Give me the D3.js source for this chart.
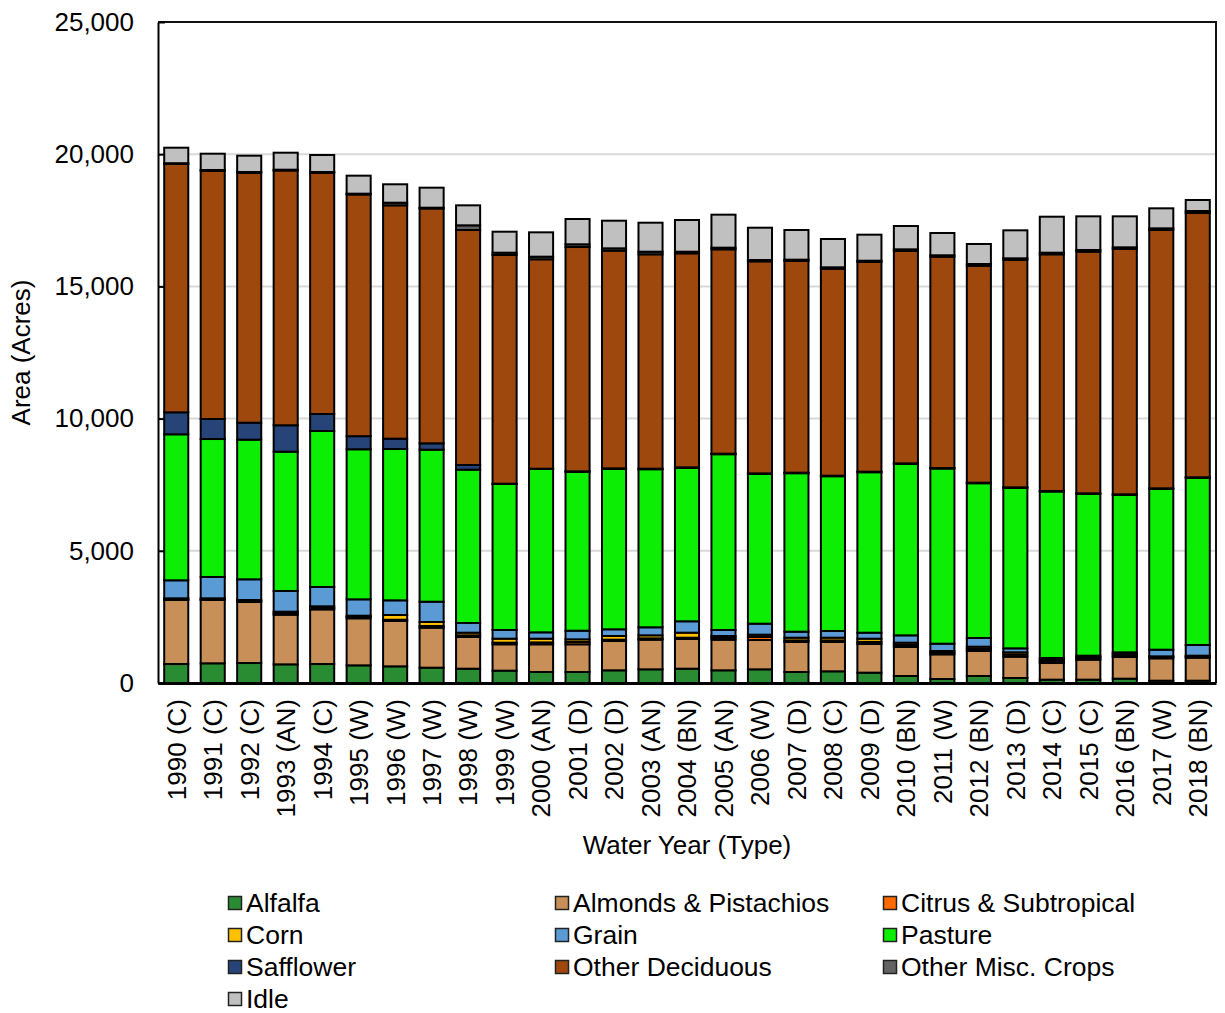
<!DOCTYPE html>
<html>
<head>
<meta charset="utf-8">
<script src="https://cdn.jsdelivr.net/npm/d3@7"></script>
<style>
  html, body { margin: 0; padding: 0; background: #fff; }
  svg { display: block; font-family: "Liberation Sans", Arial, sans-serif; }
</style>
</head>
<body>
<svg id="chart" width="1225" height="1013"></svg>
<script>
// Water years and their year-type classification
const years = [1990,1991,1992,1993,1994,1995,1996,1997,1998,1999,2000,2001,2002,2003,2004,
               2005,2006,2007,2008,2009,2010,2011,2012,2013,2014,2015,2016,2017,2018];
const yearTypes = ["C","C","C","AN","C","W","W","W","W","W","AN","D","D","AN","BN",
                   "AN","W","D","C","D","BN","W","BN","D","C","C","BN","W","BN"];

// Acreage by crop group (acres), stacked bottom to top in this order
const alfalfa   = [718,745,756,706,718,668,630,580,541,467,416,416,480,517,541,480,517,416,442,391,265,151,265,189,126,126,164,87,87];
const almonds   = [2421,2395,2307,1878,2066,1779,1715,1512,1199,997,1048,1048,1108,1121,1123,1158,1109,1135,1109,1084,1097,933,945,806,630,756,819,846,871];
const citrus    = [24,23,36,53,56,48,47,65,63,62,72,88,50,50,49,80,120,60,60,80,80,60,80,80,60,50,60,40,40];
const corn      = [40,40,40,60,60,50,180,150,100,150,140,100,140,115,190,60,82,103,103,121,83,66,83,85,60,50,60,35,35];
const grain     = [681,806,783,783,731,620,555,768,366,329,241,326,253,304,431,227,415,227,253,227,278,277,329,151,70,51,57,252,404];
const pasture   = [5522,5219,5281,5268,5900,5675,5723,5749,5799,5523,6178,6008,6068,5978,5803,6648,5666,5994,5854,6069,6485,6624,5854,6070,6296,6121,5957,6083,6323];
const safflower = [832,757,642,1000,643,495,391,241,177,10,10,20,20,20,20,20,20,20,20,20,20,20,20,20,20,20,20,20,20];
const otherDeciduous = [9392,9388,9452,9636,9123,9142,8825,8882,8888,8650,7920,8484,8232,8109,8093,7729,8019,8006,7829,7931,8031,7994,8207,8609,8952,9139,9278,9770,9996];
const otherMisc = [30,30,30,30,30,30,100,30,177,87,99,102,89,99,63,63,50,50,52,49,63,52,64,52,61,64,63,63,76];
const idle      = [586,616,617,643,643,681,696,757,756,794,921,957,1045,1096,1198,1248,1222,1122,1071,984,882,843,757,1059,1361,1273,1172,757,416];

const yTicks = [0, 5000, 10000, 15000, 20000, 25000];

const series = [
  { key: "Alfalfa",               values: alfalfa,        color: "#2a8c32" },
  { key: "Almonds & Pistachios",  values: almonds,        color: "#c98f58" },
  { key: "Citrus & Subtropical",  values: citrus,         color: "#ff6a00" },
  { key: "Corn",                  values: corn,           color: "#ffc000" },
  { key: "Grain",                 values: grain,          color: "#5b9bd5" },
  { key: "Pasture",               values: pasture,        color: "#0cee04" },
  { key: "Safflower",             values: safflower,      color: "#264478" },
  { key: "Other Deciduous",       values: otherDeciduous, color: "#9e480e" },
  { key: "Other Misc. Crops",     values: otherMisc,      color: "#636363" },
  { key: "Idle",                  values: idle,           color: "#c0c0c0" }
];

// Legend is laid out row by row, three entries per row
const legendOrder = ["Alfalfa","Almonds & Pistachios","Citrus & Subtropical",
                     "Corn","Grain","Pasture",
                     "Safflower","Other Deciduous","Other Misc. Crops",
                     "Idle"];

// Build the table d3.stack needs
const rows = years.map((yr, i) => {
  const r = { label: `${yr} (${yearTypes[i]})` };
  series.forEach(s => { r[s.key] = s.values[i]; });
  return r;
});

const svg = d3.select("#chart");
const plot = { left: 158, right: 1216, top: 22, bottom: 683 };

const x = d3.scaleBand()
  .domain(rows.map(d => d.label))
  .range([plot.left, plot.right])
  .paddingInner(0.34)
  .paddingOuter(0.17);

const y = d3.scaleLinear()
  .domain([0, 25000])
  .range([plot.bottom, plot.top]);

// Horizontal gridlines
svg.append("g")
  .selectAll("line")
  .data(yTicks.filter(t => t > 0 && t < 25000))
  .join("line")
  .attr("x1", plot.left).attr("x2", plot.right)
  .attr("y1", d => y(d)).attr("y2", d => y(d))
  .attr("stroke", "#d9d9d9")
  .attr("stroke-width", 2);

// Stacked bars
const stacked = d3.stack().keys(series.map(s => s.key))(rows);
const colorOf = new Map(series.map(s => [s.key, s.color]));

svg.append("g")
  .selectAll("g")
  .data(stacked)
  .join("g")
  .attr("fill", d => colorOf.get(d.key))
  .selectAll("rect")
  .data(d => d)
  .join("rect")
  .attr("x", d => x(d.data.label))
  .attr("width", x.bandwidth())
  .attr("y", d => y(d[1]))
  .attr("height", d => y(d[0]) - y(d[1]))
  .attr("stroke", "#000")
  .attr("stroke-width", 2);

// Plot frame (top and right)
svg.append("path")
  .attr("d", `M${plot.left},${plot.top}H${plot.right}V${plot.bottom}`)
  .attr("fill", "none")
  .attr("stroke", "#111")
  .attr("stroke-width", 2);

// Y axis
const yAxis = svg.append("g")
  .attr("transform", `translate(${plot.left},0)`)
  .call(d3.axisLeft(y)
    .tickValues(yTicks)
    .tickFormat(d3.format(","))
    .tickSizeInner(-7)
    .tickSizeOuter(0)
    .tickPadding(24));
yAxis.select(".domain").attr("stroke", "#000").attr("stroke-width", 2);
yAxis.selectAll(".tick line").attr("stroke", "#000").attr("stroke-width", 2);
yAxis.selectAll("text")
  .attr("font-size", 26)
  .attr("fill", "#000")
  .attr("font-family", "'Liberation Sans', Arial, sans-serif");

// X axis with vertical labels
const xAxis = svg.append("g")
  .attr("transform", `translate(0,${plot.bottom})`)
  .call(d3.axisBottom(x).tickSize(0).tickSizeOuter(0));
xAxis.select(".domain").attr("stroke", "#000").attr("stroke-width", 3);
xAxis.selectAll("text")
  .attr("font-size", 26)
  .attr("fill", "#000")
  .attr("font-family", "'Liberation Sans', Arial, sans-serif")
  .attr("text-anchor", "end")
  .attr("transform", "rotate(-90)")
  .attr("x", -16)
  .attr("y", 0)
  .attr("dy", "0.36em");

// Axis titles
svg.append("text")
  .attr("x", (plot.left + plot.right) / 2)
  .attr("y", 854)
  .attr("text-anchor", "middle")
  .attr("font-size", 26)
  .text("Water Year (Type)");

svg.append("text")
  .attr("transform", `translate(30,${(plot.top + plot.bottom) / 2}) rotate(-90)`)
  .attr("text-anchor", "middle")
  .attr("font-size", 26)
  .text("Area (Acres)");

// Legend
const legendCols = [228, 555, 883];
const legendRow0 = 903, legendRowStep = 32;
const legend = svg.append("g")
  .selectAll("g")
  .data(legendOrder)
  .join("g")
  .attr("transform", (d, i) =>
    `translate(${legendCols[i % 3]},${legendRow0 + Math.floor(i / 3) * legendRowStep})`);

legend.append("rect")
  .attr("x", 0.5).attr("y", -6.5)
  .attr("width", 13).attr("height", 13)
  .attr("fill", d => colorOf.get(d))
  .attr("stroke", "#222")
  .attr("stroke-width", 1.5);

legend.append("text")
  .attr("x", 18)
  .attr("dy", "0.34em")
  .attr("font-size", 26.5)
  .text(d => d);
</script>
</body>
</html>
